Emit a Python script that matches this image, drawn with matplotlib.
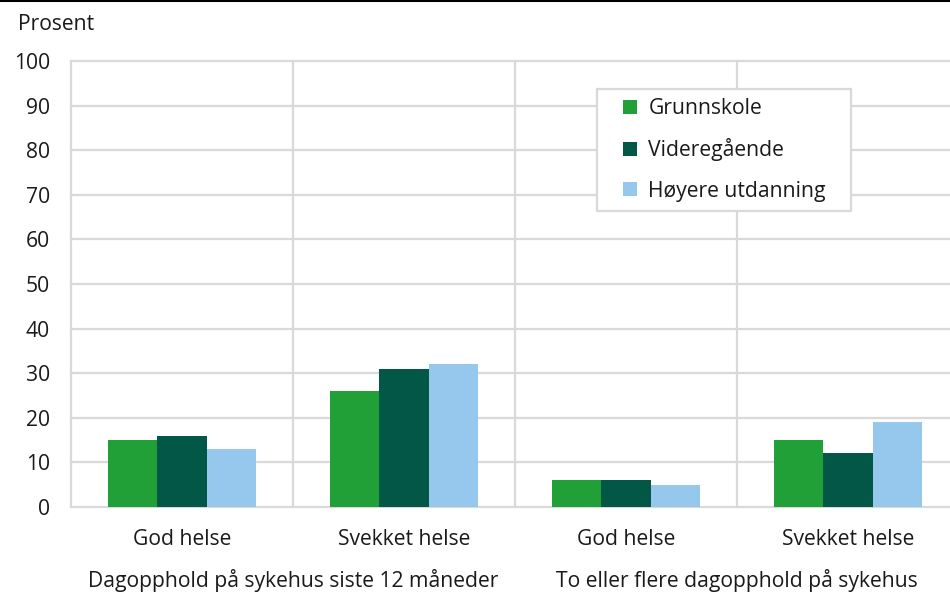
import numpy as np
import matplotlib
matplotlib.use("Agg")
import matplotlib.pyplot as plt
from matplotlib.patches import Patch, Rectangle
from matplotlib.lines import Line2D

plt.rcParams["font.family"] = ["Open Sans", "DejaVu Sans"]

categories = ["God helse", "Svekket helse", "God helse", "Svekket helse"]
groups = ["Dagopphold på sykehus siste 12 måneder", "To eller flere dagopphold på sykehus"]
series = ["Grunnskole", "Videregående", "Høyere utdanning"]
grunnskole = [15, 26, 6, 15]
videregaende = [16, 31, 6, 12]
hoyere = [13, 32, 5, 19]
colors = ["#21a038", "#025746", "#96c7ec"]
grid_c = "#d9d9d9"
txt_c = "#1a1a1a"
fs = 15.2

fig = plt.figure(figsize=(9.5, 5.94), dpi=100)
ax = fig.add_axes([71 / 950, 87 / 594, 888 / 950, 446 / 594])

x = np.arange(len(categories))
w = 0.222
for i, (vals, c) in enumerate(zip([grunnskole, videregaende, hoyere], colors)):
    ax.bar(x + (i - 1) * w, vals, width=w, color=c, zorder=3)

ax.set_xlim(-0.5, 3.5)
ax.set_ylim(0, 100)
for s in ax.spines.values():
    s.set_visible(False)

# grid lines drawn by hand so edge lines are not clipped
for yv in range(0, 101, 10):
    ax.axhline(yv, color=grid_c, lw=1.6, zorder=1, clip_on=False)
for xv in [-0.5, 0.5, 1.5, 2.5]:
    ax.axvline(xv, color=grid_c, lw=1.6, zorder=1, clip_on=False)

ax.set_yticks(range(0, 101, 10))
ax.tick_params(axis="y", length=0, pad=15, labelsize=fs, labelcolor=txt_c)
ax.set_xticks(x)
ax.set_xticklabels(categories)
ax.tick_params(axis="x", length=0, pad=16, labelsize=fs, labelcolor=txt_c)

for gx, gl in zip([0.5, 2.5], groups):
    ax.text(gx, -0.164, gl, transform=ax.get_xaxis_transform(), ha="center", va="center",
            fontsize=fs, color=txt_c)

fig.text(18 / 950, 1 - 25 / 594, "Prosent", ha="left", va="center", fontsize=fs, color=txt_c)

# black rule at the very top
fig.add_artist(Line2D([0, 1], [1 - 1 / 594, 1 - 1 / 594], color="black", lw=1.5, transform=fig.transFigure))

# legend box drawn by hand, legend itself without frame
fig.add_artist(Rectangle((597 / 950, 1 - 211 / 594), 254 / 950, 122 / 594, transform=fig.transFigure,
                         facecolor="white", edgecolor=grid_c, lw=1.6, zorder=4))
handles = [Patch(facecolor=c, edgecolor="none") for c in colors]
leg = fig.legend(handles, series, loc="upper left", bbox_to_anchor=(623 / 950, 1 - 98 / 594),
                 borderaxespad=0, borderpad=0, fontsize=fs, frameon=False,
                 handlelength=0.65, handleheight=0.65, handletextpad=0.55, labelspacing=0.92)
leg.set_zorder(5)
for t in leg.get_texts():
    t.set_color(txt_c)

fig.savefig("out.png", dpi=100)
